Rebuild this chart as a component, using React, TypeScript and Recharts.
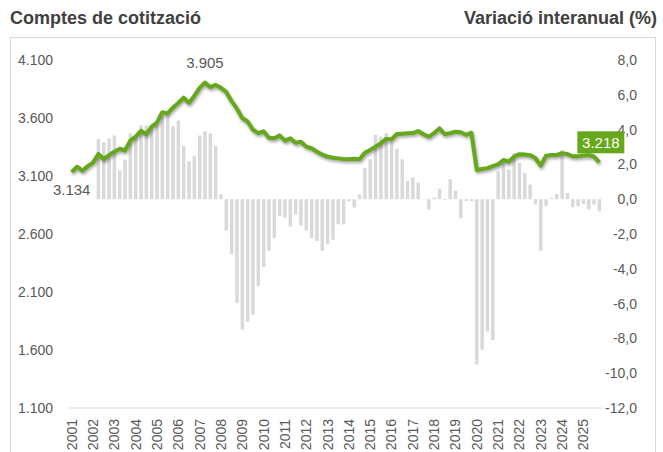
import { ComposedChart, Bar, Line, XAxis, YAxis, LabelList } from 'recharts';

const years = [
  2001, 2002, 2003, 2004, 2005, 2006, 2007, 2008, 2009, 2010, 2011, 2012, 2013,
  2014, 2015, 2016, 2017, 2018, 2019, 2020, 2021, 2022, 2023, 2024, 2025,
];
const quarters = years.flatMap((y) => ['T1', 'T2', 'T3', 'T4'].map((q) => `${y}${q}`));
const yearTicks = years.map((y) => `${y}T1`);

// comptes de cotització (milers), trimestral
const comptes = [
  3134, 3180, 3146, 3185,
  3215, 3290, 3245, 3280,
  3310, 3335, 3320, 3405,
  3440, 3490, 3460, 3525,
  3560, 3650, 3640, 3690,
  3730, 3775, 3730, 3790,
  3860, 3905, 3865, 3885,
  3860, 3825, 3745, 3680,
  3600, 3570, 3500, 3470,
  3485, 3430, 3425, 3450,
  3405, 3425, 3387, 3396,
  3353, 3339, 3310, 3285,
  3268, 3258, 3252, 3246,
  3244, 3248, 3244, 3300,
  3325, 3353, 3382, 3420,
  3416, 3462, 3465, 3468,
  3470, 3488, 3460, 3440,
  3470, 3510, 3460, 3470,
  3482, 3477, 3455, 3473,
  3152, 3160, 3168, 3185,
  3200, 3238, 3223, 3267,
  3288, 3285, 3280, 3255,
  3190, 3275, 3281, 3281,
  3296, 3290, 3270, 3270,
  3276, 3281, 3268, 3218,
];

// variació interanual (%)
const variacio = [
  null, null, null, null,
  null, 3.47, 3.28, 3.49,
  3.66, 1.64, 2.28, 3.78,
  3.62, 4.24, 4.24, 4.02,
  4.29, 4.77, 4.96, 4.2,
  4.52, 3.05, 2.18, 2.47,
  3.66, 3.91, 3.78, 3.05,
  0.27, -1.8, -3.14, -5.96,
  -7.49, -7.05, -6.63, -5.0,
  -3.9, -2.97, -2.24, -0.96,
  -1.07, -1.57, -0.88, -1.5,
  -1.8, -2.24, -2.4, -2.97,
  -2.57, -2.33, -1.43, -1.45,
  -0.12, -0.48, 0.27, 1.8,
  2.3, 3.7, 3.6, 3.8,
  3.3, 2.9, 2.3, 1.05,
  1.25, 0.95, 0.02, -0.6,
  0.1, 0.6, -0.05, 1.15,
  0.5, -1.1, -0.1, -0.1,
  -9.5, -8.65, -7.6, -8.1,
  1.61, 2.09, 1.71, 2.66,
  2.09, 1.51, 0.84, -0.3,
  -2.95, -0.4, 0.08, 0.3,
  2.8, 0.36, -0.46, -0.4,
  -0.27, -0.59, -0.3, -0.7,
];

const leftTicks = [1100, 1600, 2100, 2600, 3100, 3600, 4100];
const rightTicks = [-12, -10, -8, -6, -4, -2, 0, 2, 4, 6, 8];

const data = quarters.map((q, i) => ({ q, comptes: comptes[i], variacio: variacio[i] }));

const GREEN = '#66a81c';
const GREY = '#595959';
const FONT = '"Liberation Sans", Arial, sans-serif';

const fmtMil = (n: number) => String(n).replace(/\B(?=(\d{3})+(?!\d))/g, '.');
const fmtDec = (n: number) => n.toFixed(1).replace('.', ',');

const peakIdx = comptes.indexOf(Math.max(...comptes));
const lastIdx = comptes.length - 1;

const LeftTick = (props: any) => (
  <text x={18} y={props.y} fill={GREY} fontSize={14} fontFamily={FONT} dominantBaseline="central">
    {fmtMil(props.payload.value)}
  </text>
);

const RightTick = (props: any) => (
  <text x={637} y={props.y} fill={GREY} fontSize={14} fontFamily={FONT} textAnchor="end" dominantBaseline="central">
    {fmtDec(props.payload.value)}
  </text>
);

const YearTick = (props: any) => (
  <text
    transform={`translate(${props.x},${props.y + 3}) rotate(-90)`}
    fill={GREY}
    fontSize={14}
    fontFamily={FONT}
    textAnchor="end"
    dominantBaseline="central"
  >
    {String(props.payload.value).slice(0, 4)}
  </text>
);

const lineLabel = (props: any) => {
  const { x, y, index, value } = props;
  if (index === 0 || index === peakIdx) {
    return (
      <text x={x} y={index === 0 ? y + 17 : y - 20} fill={GREY} fontSize={15} fontFamily={FONT} textAnchor="middle" dominantBaseline="central">
        {fmtMil(value)}
      </text>
    );
  }
  if (index === lastIdx) {
    return (
      <g>
        <rect x={x - 22} y={y - 31} width={47} height={22} fill={GREEN} />
        <text x={x + 1.5} y={y - 20} fill="#fff" fontSize={15} fontFamily={FONT} textAnchor="middle" dominantBaseline="central">
          {fmtMil(value)}
        </text>
      </g>
    );
  }
  return null;
};

const barLabel = (props: any) => {
  const { x, y, width, height, index, value } = props;
  if (index !== lastIdx) return null;
  const bottom = Math.max(y, y + height);
  return (
    <text x={x + width / 2} y={bottom + 15} fill={GREY} fontSize={15} fontFamily={FONT} textAnchor="middle" dominantBaseline="central">
      {fmtDec(value)}
    </text>
  );
};

export default function App() {
  return (
    <div style={{ position: 'relative', width: 663, height: 452, overflow: 'hidden', background: '#fff', fontFamily: FONT }}>
      <style>{`body{margin:0} .comptes-line .recharts-line-curve{filter:drop-shadow(1px 2px 1.5px rgba(0,0,0,0.35))}`}</style>
      <div style={{ position: 'absolute', left: 10, top: 7, fontSize: 18, lineHeight: '22px', fontWeight: 'bold', color: '#404040' }}>
        Comptes de cotització
      </div>
      <div style={{ position: 'absolute', right: 6, top: 7, fontSize: 18, lineHeight: '22px', fontWeight: 'bold', color: '#404040' }}>
        Variació interanual (%)
      </div>
      <div style={{ position: 'absolute', left: 10, top: 37, width: 644, height: 440, border: '1px solid #d9d9d9' }} />
      <div style={{ position: 'absolute', left: 0, top: 0 }}>
        <ComposedChart width={663} height={452} data={data} margin={{ top: 60, right: 31, bottom: 14, left: 39 }}>
          <XAxis
            dataKey="q"
            ticks={yearTicks}
            interval={0}
            tick={YearTick}
            tickLine={false}
            axisLine={{ stroke: '#d9d9d9' }}
            height={30}
          />
          <YAxis yAxisId="left" domain={[1100, 4100]} ticks={leftTicks} axisLine={false} tickLine={false} width={30} tick={LeftTick} />
          <YAxis
            yAxisId="right"
            orientation="right"
            domain={[-12, 8]}
            ticks={rightTicks}
            axisLine={false}
            tickLine={false}
            width={30}
            tick={RightTick}
          />
          <Bar yAxisId="right" dataKey="variacio" fill="#d9d9d9" barSize={3.5} isAnimationActive={false}>
            <LabelList dataKey="variacio" content={barLabel} />
          </Bar>
          <Line
            yAxisId="left"
            className="comptes-line"
            type="linear"
            dataKey="comptes"
            stroke={GREEN}
            strokeWidth={4}
            strokeLinejoin="round"
            dot={false}
            isAnimationActive={false}
          >
            <LabelList dataKey="comptes" content={lineLabel} />
          </Line>
        </ComposedChart>
      </div>
    </div>
  );
}
